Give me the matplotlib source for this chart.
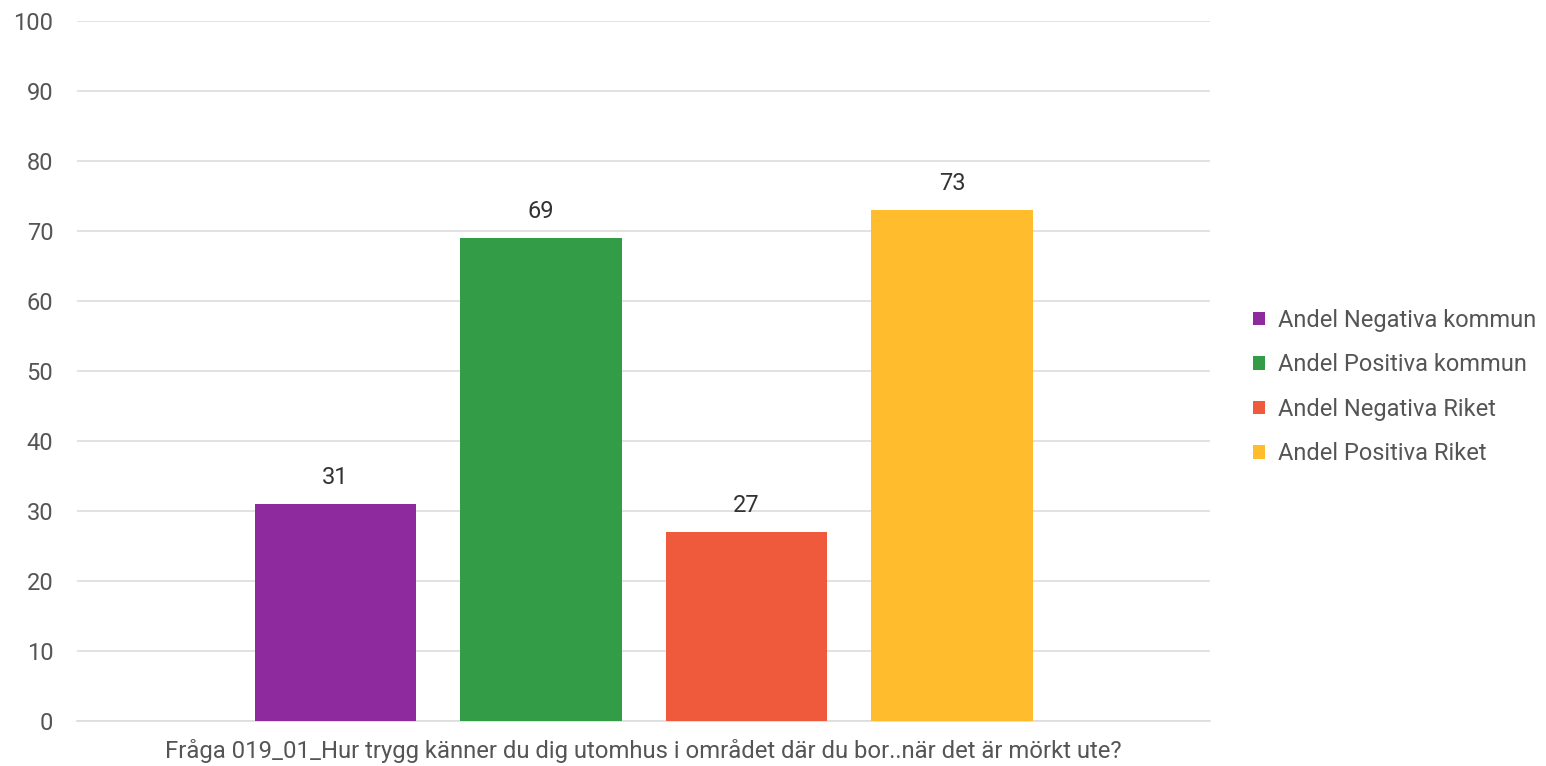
import matplotlib
matplotlib.use("Agg")
import matplotlib.pyplot as plt
from matplotlib.patches import Patch

plt.rcParams['font.family'] = ['Roboto', 'DejaVu Sans']

series = ["Andel Negativa kommun", "Andel Positiva kommun", "Andel Negativa Riket", "Andel Positiva Riket"]
values = [31, 69, 27, 73]
colors = ["#8E299E", "#339C47", "#EF5A3D", "#FFBD2E"]
category = "Fråga 019_01_Hur trygg känner du dig utomhus i området där du bor..när det är mörkt ute?"
yticks = [0, 10, 20, 30, 40, 50, 60, 70, 80, 90, 100]

W, H = 1546, 766
fig = plt.figure(figsize=(W / 100, H / 100), dpi=100)
ax = fig.add_axes([77 / W, (H - 721) / H, (1210 - 77) / W, 700 / H])

x = list(range(len(values)))
bars = ax.bar(x, values, width=0.785, color=colors, zorder=3)
for xi, v in zip(x, values):
    ax.text(xi, v + 2.2, f"{v}", ha="center", va="bottom", fontsize=17, color="#333333")

ax.set_ylim(0, 100)
ax.set_xlim(-1.258, 4.255)
ax.set_yticks(yticks)
ax.set_yticklabels([str(t) for t in yticks])
ax.yaxis.grid(True, color="#dddddd", linewidth=1.2, zorder=0)
ax.tick_params(axis="y", length=0, pad=17, labelsize=17, labelcolor="#555555")
ax.set_xticks([(len(values) - 1) / 2])
ax.set_xticklabels([category])
ax.tick_params(axis="x", length=0, pad=13, labelsize=17.2, labelcolor="#555555")
for s in ["top", "right", "left"]:
    ax.spines[s].set_visible(False)
ax.spines["bottom"].set_color("#dddddd")
ax.spines["bottom"].set_linewidth(1.2)

handles = [Patch(facecolor=c, label=l) for c, l in zip(colors, series)]
leg = fig.legend(handles=handles, loc="center left", bbox_to_anchor=(1253 / W, 1 - 387 / H),
                 frameon=False, fontsize=17, handlelength=0.5, handleheight=0.5,
                 handletextpad=0.55, labelspacing=0.91, labelcolor="#555555",
                 borderpad=0, borderaxespad=0)

fig.savefig("out.png", dpi=100)
